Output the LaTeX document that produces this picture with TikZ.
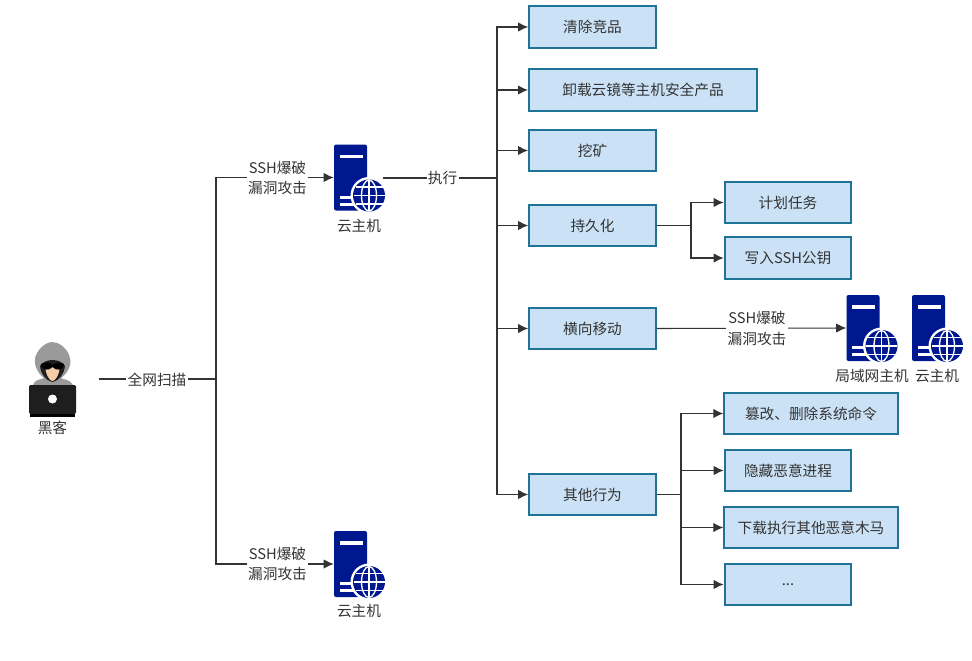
\documentclass[tikz,border=0pt]{standalone}
\usepackage{fontspec}
\setmainfont{Noto Sans CJK SC}
\usetikzlibrary{arrows.meta}
\definecolor{boxfill}{HTML}{CBE2F6}
\definecolor{boxline}{HTML}{1F7396}
\definecolor{srvblue}{HTML}{00188F}
\definecolor{inktext}{HTML}{333333}
\definecolor{hoodgray}{HTML}{9A9A9A}
\definecolor{laptopblack}{HTML}{1E1E1E}
\definecolor{skin}{HTML}{F3CDA8}
\tikzset{
  every node/.style={font=\fontsize{11}{15.5}\selectfont, text=inktext},
  taskbox/.style={draw=boxline, fill=boxfill, line width=1.5pt, minimum height=31pt, inner sep=0pt},
  shortbox/.style={taskbox, minimum width=95pt},
  longbox/.style={taskbox, minimum width=130pt},
  srvnode/.style={minimum width=24.75pt, minimum height=49.5pt, inner sep=0pt},
  linklabel/.style={fill=white, inner sep=1pt, align=center},
  link/.style={draw=inktext, line width=0.8pt},
  arrowlink/.style={link, -{Latex[length=7.5pt,width=7pt]}},
  server/.pic={
    \fill[srvblue, rounded corners=1.5pt] (-16.5,-33) rectangle (16.5,33);
    \fill[white] (-11,-23) rectangle (12,-19.5);
    \fill[white] (-11,18) rectangle (4,21);
    \fill[white] (-11,25) rectangle (4,28);
    \fill[white] (18.5,18) circle (18.5);
    \fill[srvblue] (18.5,18) circle (16);
    \begin{scope}[white, line width=1pt]
      \draw (18.5,18) ellipse (7.5 and 15.5);
      \draw (18.5,2.5) -- (18.5,33.5);
      \draw (3,18) -- (34,18);
      \draw (5,9.5) -- (32,9.5);
      \draw (5,26.5) -- (32,26.5);
    \end{scope}
  }
}
\begin{document}
\begin{tikzpicture}[x=0.75pt, y=-0.75pt]
  \useasboundingbox (0,0) rectangle (972,661);
  % hacker
  \fill[hoodgray] (33,385) .. controls (36,378) and (42,380) .. (44,378)
    .. controls (36,372) and (33,362) .. (36,355)
    .. controls (40,346) and (48,342) .. (52,342)
    .. controls (58,342) and (66,347) .. (69,355)
    .. controls (73,364) and (68,373) .. (61,378)
    .. controls (64,380) and (70,379) .. (73,385) -- cycle;
  \fill[laptopblack] (40,366) .. controls (41,374) and (45,380) .. (52.5,382)
    .. controls (60,380) and (64,374) .. (65,366)
    .. controls (60,358) and (45,358) .. (40,366) -- cycle;
  \fill[skin] (45,366) .. controls (46,376) and (50,381) .. (52.5,381)
    .. controls (55,381) and (59,376) .. (60,366) -- cycle;
  \fill[black] (41,364) .. controls (44,362) and (50,362) .. (52.5,365)
    .. controls (55,362) and (61,362) .. (64,364)
    .. controls (63,371) and (56,371) .. (52.5,367)
    .. controls (49,371) and (42,371) .. (41,364) -- cycle;
  \fill[laptopblack, rounded corners=1pt] (29,385) rectangle (76,414);
  \fill[black] (30,414) rectangle (75,416.5);
  \fill[white] (52.5,399) circle (4.5);
  \node (hacker) at (52.5,428) {黑客};
  % hosts
  \node[srvnode] (hostA) at (350.5,177.5) {};
  \pic at (hostA.center) {server};
  \node (hostAname) at (359,226) {云主机};
  \node[srvnode] (hostB) at (350.5,564) {};
  \pic at (hostB.center) {server};
  \node (hostBname) at (359,611) {云主机};
  \node[srvnode] (hostC) at (863,328) {};
  \pic at (hostC.center) {server};
  \node (hostCname) at (872,376) {局域网主机};
  \node[srvnode] (hostD) at (928.5,328) {};
  \pic at (hostD.center) {server};
  \node (hostDname) at (937,376) {云主机};
  % task boxes
  \node[shortbox] (compete) at (592.5,27) {清除竞品};
  \node[taskbox, minimum width=171pt] (unload) at (643,90) {卸载云镜等主机安全产品};
  \node[shortbox] (mining) at (592.5,150.5) {挖矿};
  \node[shortbox] (persist) at (592.5,225.5) {持久化};
  \node[shortbox] (lateral) at (592.5,328.5) {横向移动};
  \node[shortbox] (others) at (592.5,494.5) {其他行为};
  \node[shortbox] (crontab) at (788,202.5) {计划任务};
  \node[shortbox] (sshkey) at (788,258) {写入SSH公钥};
  \node[longbox] (tamper) at (811,413.5) {篡改、删除系统命令};
  \node[shortbox] (hide) at (788,470.5) {隐藏恶意进程};
  \node[longbox] (fetch) at (811,527.5) {下载执行其他恶意木马};
  \node[shortbox] (more) at (788,584.5) {...};
  % junctions
  \coordinate (scanstart) at (99,379);
  \coordinate (scanbus) at (216,379);
  \coordinate (runstart) at (383,178);
  \coordinate (runbus) at (497,178);
  \coordinate (persistbus) at (691,225.5);
  \coordinate (otherbus) at (681,494.5);
  % scan
  \draw[link] (scanstart) -- (scanbus);
  \draw[arrowlink] (scanbus) |- (hostA.west);
  \draw[arrowlink] (scanbus) |- (hostB.west);
  % run
  \draw[link] (runstart) -- (runbus);
  \draw[arrowlink] (runbus) |- (compete.west);
  \draw[arrowlink] (runbus) |- (unload.west);
  \draw[arrowlink, line width=1.2pt] (runbus) |- (mining.west);
  \draw[arrowlink] (runbus) |- (persist.west);
  \draw[arrowlink] (runbus) |- (lateral.west);
  \draw[arrowlink] (runbus) |- (others.west);
  % persistence
  \draw[link] (persist.east) -- (persistbus);
  \draw[arrowlink] (persistbus) |- (crontab.west);
  \draw[arrowlink] (persistbus) |- (sshkey.west);
  % lateral
  \draw[arrowlink] (lateral.east) -- (hostC.west);
  % other behaviour
  \draw[link] (others.east) -- (otherbus);
  \draw[arrowlink] (otherbus) |- (tamper.west);
  \draw[arrowlink] (otherbus) |- (hide.west);
  \draw[arrowlink] (otherbus) |- (fetch.west);
  \draw[arrowlink] (otherbus) |- (more.west);
  % labels on the lines
  \node[linklabel] (scanlabel) at (157,380) {全网扫描};
  \node[linklabel] (attackA) at (277.5,178) {SSH爆破\\漏洞攻击};
  \node[linklabel] (attackB) at (277.5,564) {SSH爆破\\漏洞攻击};
  \node[linklabel] (runlabel) at (442.5,178) {执行};
  \node[linklabel] (attackC) at (757,328.5) {SSH爆破\\漏洞攻击};
\end{tikzpicture}
\end{document}
